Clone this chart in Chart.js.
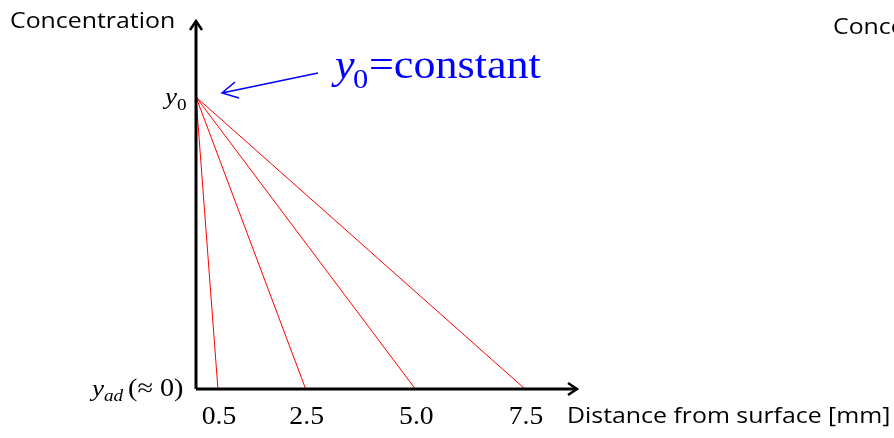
<!DOCTYPE html>
<html>
<head>
  <title>Concentration profile</title>
  <script src="https://cdn.jsdelivr.net/npm/chart.js"></script>
  <style>
    html, body { margin: 0; padding: 0; background: #fff; }
    #wrap { width: 894px; height: 438px; position: relative; }
  </style>
</head>
<body>
<div id="wrap"><canvas id="profileChart"></canvas></div>
<script>
  // distances from surface where the concentration reaches y_ad [mm]
  const depths = [0.5, 2.5, 5.0, 7.5];
  const tickLabels = ['0.5', '2.5', '5.0', '7.5'];
  const y0Value = 1;      // y0 = constant at the surface
  const yAdValue = 0;     // y_ad (≈ 0)
  const yTitle = 'Concentration';
  const xTitle = 'Distance from surface [mm]';

  const datasets = depths.map(d => ({
    data: [{x: 0, y: y0Value}, {x: d, y: yAdValue}],
    borderColor: '#ff0000',
    borderWidth: 1,
    pointRadius: 0,
    clip: false
  }));

  // the slide picture is a bit wider than tall, so text gets stretched too
  const SX = 1.13;
  function sText(ctx, text, x, y) {
    ctx.save();
    ctx.translate(x, y);
    ctx.scale(SX, 1);
    ctx.fillText(text, 0, 0);
    ctx.restore();
  }

  // axes, arrows and labels are drawn by hand like on the slide
  const axesPlugin = {
    id: 'axesPlugin',
    afterDraw(chart) {
      const ctx = chart.ctx;
      const a = chart.chartArea;
      const xs = chart.scales.x, ys = chart.scales.y;
      const ox = xs.getPixelForValue(0), oy = ys.getPixelForValue(yAdValue);
      ctx.save();

      // axes
      ctx.strokeStyle = '#000';
      ctx.lineWidth = 3;
      ctx.beginPath();
      ctx.moveTo(ox, oy); ctx.lineTo(ox, a.top + 1);
      ctx.moveTo(ox, oy); ctx.lineTo(a.right - 1, oy);
      ctx.stroke();
      ctx.lineWidth = 2.5;
      ctx.beginPath();
      ctx.moveTo(ox - 6, a.top + 10); ctx.lineTo(ox, a.top + 1); ctx.lineTo(ox + 6, a.top + 10);
      ctx.moveTo(a.right - 10, oy - 6); ctx.lineTo(a.right - 1, oy); ctx.lineTo(a.right - 10, oy + 6);
      ctx.stroke();

      // tick labels
      ctx.fillStyle = '#000';
      ctx.font = '24.5px "Liberation Serif"';
      ctx.textAlign = 'center';
      ctx.textBaseline = 'alphabetic';
      depths.forEach((d, i) => {
        sText(ctx, tickLabels[i], xs.getPixelForValue(d) + 1, oy + 35);
      });

      // y0 label
      const py0 = ys.getPixelForValue(y0Value);
      ctx.textAlign = 'left';
      ctx.font = 'italic 24px "Liberation Serif"';
      sText(ctx, 'y', ox - 31, py0 + 7);
      ctx.font = '17px "Liberation Serif"';
      sText(ctx, '0', ox - 19, py0 + 13);

      // y_ad (≈ 0) label
      ctx.font = 'italic 24px "Liberation Serif"';
      sText(ctx, 'y', ox - 104, oy + 7);
      ctx.font = 'italic 17px "Liberation Serif"';
      sText(ctx, 'ad', ox - 92, oy + 12);
      ctx.font = '25px "Liberation Serif"';
      sText(ctx, '(\u2248 0)', ox - 68, oy + 7);

      // axis titles
      ctx.font = '22px "Open Sans"';
      sText(ctx, yTitle, 10, a.top + 8);
      sText(ctx, xTitle, 567, oy + 34);
      sText(ctx, yTitle, 833, a.top + 14);

      // blue annotation
      ctx.fillStyle = '#0000ff';
      ctx.font = 'italic 39px "Liberation Serif"';
      sText(ctx, 'y', 335, 78);
      ctx.font = '27px "Liberation Serif"';
      sText(ctx, '0', 353, 88);
      ctx.font = '39px "Liberation Serif"';
      sText(ctx, '=constant', 369, 78);

      ctx.strokeStyle = '#0000ff';
      ctx.lineWidth = 1.5;
      const tx = ox + 26, ty = py0 - 4;
      ctx.beginPath();
      ctx.moveTo(318, 73); ctx.lineTo(tx, ty);
      ctx.moveTo(tx + 13, ty - 11); ctx.lineTo(tx, ty); ctx.lineTo(tx + 17, ty + 5);
      ctx.stroke();

      ctx.restore();
    }
  };

  new Chart(document.getElementById('profileChart'), {
    type: 'line',
    data: { datasets },
    options: {
      responsive: true,
      maintainAspectRatio: false,
      animation: false,
      layout: { padding: { left: 196, top: 20, right: 316, bottom: 49 } },
      plugins: { legend: { display: false }, tooltip: { enabled: false } },
      scales: {
        x: { type: 'linear', min: 0, max: 8.708, display: false },
        y: { type: 'linear', min: 0, max: 1.2637, display: false }
      }
    },
    plugins: [axesPlugin]
  });
</script>
</body>
</html>
